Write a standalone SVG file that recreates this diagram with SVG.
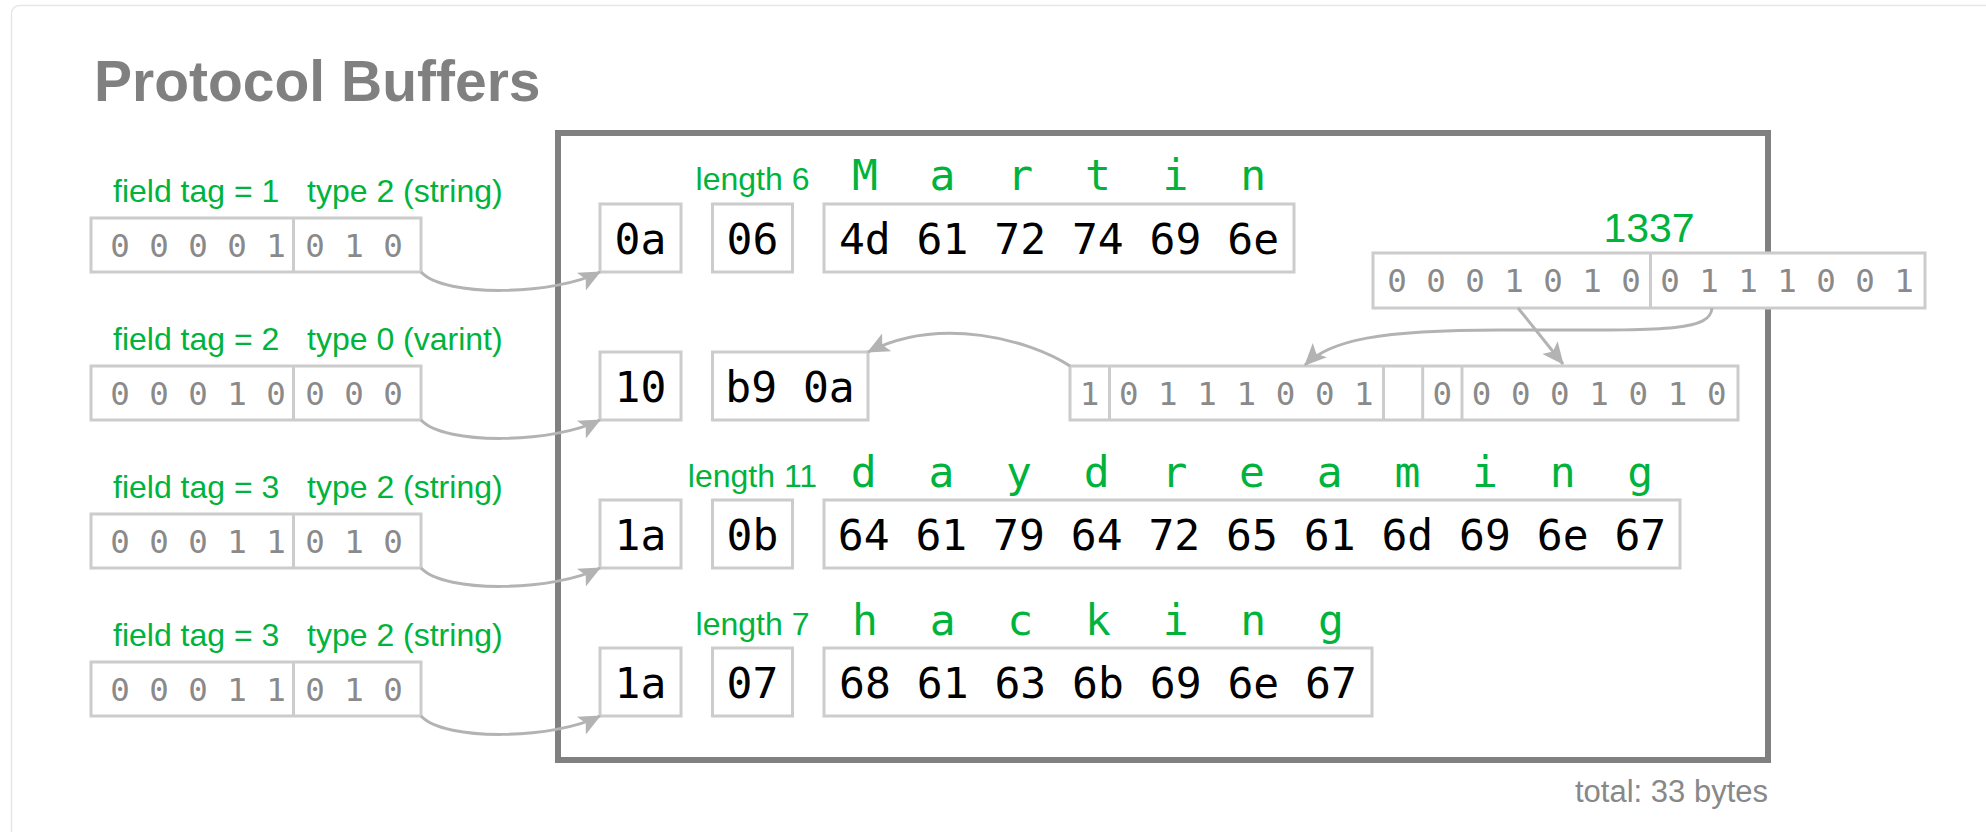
<svg xmlns="http://www.w3.org/2000/svg" width="1986" height="832" viewBox="0 0 1986 832">
<style>
.title{font-family:"Liberation Sans",Arial,sans-serif;font-weight:bold;font-size:57px;fill:#808080}
.lbl{font-family:"Liberation Sans",Arial,sans-serif;font-size:32px;fill:#00b33c}
.num{font-family:"Liberation Sans",Arial,sans-serif;font-size:41px;fill:#00b33c;text-anchor:middle}
.total{font-family:"Liberation Sans",Arial,sans-serif;font-size:31px;fill:#888888;text-anchor:end}
.hex{font-family:"DejaVu Sans Mono","Liberation Mono",monospace;font-size:43px;fill:#000000;text-anchor:middle}
.chr{font-family:"DejaVu Sans Mono","Liberation Mono",monospace;font-size:43px;fill:#00b33c;text-anchor:middle}
.bit{font-family:"DejaVu Sans Mono","Liberation Mono",monospace;font-size:32.5px;fill:#8a8a8a;text-anchor:middle}
.box{fill:#ffffff;stroke:#cccccc;stroke-width:3}
.div{stroke:#cccccc;stroke-width:3}
.frame{fill:none;stroke:#808080;stroke-width:6}
.conn{fill:none;stroke:#b3b3b3;stroke-width:3;marker-end:url(#ah)}
</style>
<defs>
<marker id="ah" markerUnits="userSpaceOnUse" viewBox="0 0 22 20" markerWidth="22" markerHeight="20" refX="21" refY="10" orient="auto">
<path d="M0,0 L22,10 L0,20 L5,10 z" fill="#b3b3b3"/>
</marker>
</defs>
<rect x="0" y="0" width="1986" height="832" fill="#ffffff"/>
<rect x="11.5" y="5.5" width="2000" height="900" rx="8" fill="#ffffff" stroke="#e6e6e6" stroke-width="1.5"/>
<text class="title" x="94" y="101">Protocol Buffers</text>

<rect id="frame" class="frame" x="558" y="133" width="1210" height="627"/>

<!-- left field-key boxes -->
<g id="key1">
<text class="lbl" x="113" y="201.5">field tag = 1</text>
<text class="lbl" x="307" y="201.5">type 2 (string)</text>
<rect class="box" x="91" y="218" width="330" height="54"/>
<line class="div" x1="293.5" y1="218" x2="293.5" y2="272"/>
<text class="bit" x="120 159 198 237 276 315 354 393" y="256.7">00001010</text>
</g>
<g id="key2">
<text class="lbl" x="113" y="349.5">field tag = 2</text>
<text class="lbl" x="307" y="349.5">type 0 (varint)</text>
<rect class="box" x="91" y="366" width="330" height="54"/>
<line class="div" x1="293.5" y1="366" x2="293.5" y2="420"/>
<text class="bit" x="120 159 198 237 276 315 354 393" y="404.7">00010000</text>
</g>
<g id="key3">
<text class="lbl" x="113" y="497.5">field tag = 3</text>
<text class="lbl" x="307" y="497.5">type 2 (string)</text>
<rect class="box" x="91" y="514" width="330" height="54"/>
<line class="div" x1="293.5" y1="514" x2="293.5" y2="568"/>
<text class="bit" x="120 159 198 237 276 315 354 393" y="552.7">00011010</text>
</g>
<g id="key4">
<text class="lbl" x="113" y="645.5">field tag = 3</text>
<text class="lbl" x="307" y="645.5">type 2 (string)</text>
<rect class="box" x="91" y="662" width="330" height="54"/>
<line class="div" x1="293.5" y1="662" x2="293.5" y2="716"/>
<text class="bit" x="120 159 198 237 276 315 354 393" y="700.7">00011010</text>
</g>

<!-- row 1 -->
<g id="row1-tag"><rect class="box" x="600" y="204" width="81" height="68"/><text class="hex" x="640.5" y="254">0a</text></g>
<g id="row1-len"><text class="lbl" x="752.5" y="190" text-anchor="middle">length 6</text><rect class="box" x="712.5" y="204" width="80" height="68"/><text class="hex" x="752.5" y="254">06</text></g>
<g id="row1-data">
<text class="chr" x="864.9 942.5 1020.2 1097.9 1175.5 1253.2" y="190">Martin</text>
<rect class="box" x="824" y="204" width="470" height="68"/>
<text class="hex" x="1059" y="254">4d 61 72 74 69 6e</text>
</g>

<!-- row 2 -->
<g id="row2-tag"><rect class="box" x="600" y="352" width="81" height="68"/><text class="hex" x="640.5" y="402">10</text></g>
<g id="row2-val"><rect class="box" x="712.5" y="352" width="155.5" height="68"/><text class="hex" x="790" y="402">b9 0a</text></g>

<g id="num1337">
<text class="num" x="1649" y="241.7">1337</text>
<rect class="box" x="1373" y="253" width="552" height="55"/>
<line class="div" x1="1650.5" y1="253" x2="1650.5" y2="308"/>
<text class="bit" x="1397 1436 1475 1514 1553 1592 1631 1670 1709 1748 1787 1826 1865 1904" y="291.7">00010100111001</text>
</g>

<g id="varint-bits">
<rect class="box" x="1070" y="366" width="668" height="54"/>
<line class="div" x1="1109.5" y1="366" x2="1109.5" y2="420"/>
<line class="div" x1="1383.5" y1="366" x2="1383.5" y2="420"/>
<line class="div" x1="1422.7" y1="366" x2="1422.7" y2="420"/>
<line class="div" x1="1462" y1="366" x2="1462" y2="420"/>
<text class="bit" x="1089.5 1128.7 1167.9 1207.1 1246.3 1285.5 1324.7 1363.9" y="404.7">10111001</text>
<text class="bit" x="1442.3 1481.5 1520.7 1559.9 1599.1 1638.3 1677.5 1716.7" y="404.7">00001010</text>
</g>

<!-- row 3 -->
<g id="row3-tag"><rect class="box" x="600" y="500" width="81" height="68"/><text class="hex" x="640.5" y="550">1a</text></g>
<g id="row3-len"><text class="lbl" x="752.5" y="486.5" text-anchor="middle">length 11</text><rect class="box" x="712.5" y="500" width="80" height="68"/><text class="hex" x="752.5" y="550">0b</text></g>
<g id="row3-data">
<text class="chr" x="863.7 941.4 1019.0 1096.7 1174.4 1252.0 1329.7 1407.4 1485.0 1562.7 1640.3" y="486.5">daydreaming</text>
<rect class="box" x="824" y="500" width="856" height="68"/>
<text class="hex" x="1252" y="550">64 61 79 64 72 65 61 6d 69 6e 67</text>
</g>

<!-- row 4 -->
<g id="row4-tag"><rect class="box" x="600" y="648" width="81" height="68"/><text class="hex" x="640.5" y="698">1a</text></g>
<g id="row4-len"><text class="lbl" x="752.5" y="634.5" text-anchor="middle">length 7</text><rect class="box" x="712.5" y="648" width="80" height="68"/><text class="hex" x="752.5" y="698">07</text></g>
<g id="row4-data">
<text class="chr" x="865.0 942.7 1020.3 1098.0 1175.7 1253.3 1331.0" y="634.5">hacking</text>
<rect class="box" x="824" y="648" width="548" height="68"/>
<text class="hex" x="1098" y="698">68 61 63 6b 69 6e 67</text>
</g>

<g id="connectors">
<path class="conn" d="M421,272 C445,298 555,295 600,272"/>
<path class="conn" d="M421,420 C445,446 555,443 600,420"/>
<path class="conn" d="M421,568 C445,594 555,591 600,568"/>
<path class="conn" d="M421,716 C445,742 555,739 600,716"/>
<path class="conn" d="M1070,366 C1030,340 940,315 868,352"/>
<path class="conn" d="M1712,308 C1710,333 1660,330 1500,330 C1380,330 1330,340 1305,365"/>
<path class="conn" d="M1518,308 L1563,364"/>
</g>

<text class="total" x="1768" y="802">total: 33 bytes</text>
</svg>
